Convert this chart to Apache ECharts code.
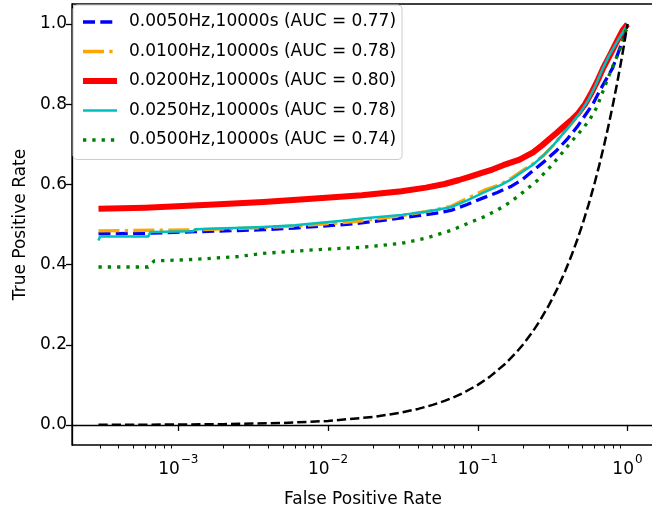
<!DOCTYPE html>
<html>
<head>
<meta charset="utf-8">
<script src="https://cdn.jsdelivr.net/npm/echarts@6/dist/echarts.min.js"></script>
<style>html,body{margin:0;padding:0;background:#fff}#c{width:652px;height:508px}</style>
</head>
<body>
<div id="c"></div>
<script>
const seriesNames = [
  '0.0050Hz,10000s (AUC = 0.77)',
  '0.0100Hz,10000s (AUC = 0.78)',
  '0.0200Hz,10000s (AUC = 0.80)',
  '0.0250Hz,10000s (AUC = 0.78)',
  '0.0500Hz,10000s (AUC = 0.74)'
];
const roc005 = [[0.000293,0.477],[0.0006,0.478],[0.0013,0.482],[0.0025,0.485],[0.0037,0.487],[0.006,0.491],[0.0082,0.495],[0.012,0.499],[0.0168,0.504],[0.025,0.512],[0.04,0.522],[0.055,0.529],[0.066,0.535],[0.085,0.55],[0.11,0.567],[0.135,0.58],[0.165,0.594],[0.2,0.613],[0.235,0.635],[0.28,0.658],[0.339,0.686],[0.4,0.715],[0.46,0.743],[0.52,0.772],[0.586,0.80],[0.653,0.834],[0.72,0.862],[0.795,0.89],[0.87,0.93],[0.93,0.96],[0.985,0.99],[1,1]];
const roc010 = [[0.000293,0.484],[0.0013,0.487],[0.0037,0.492],[0.006,0.496],[0.0082,0.50],[0.012,0.504],[0.0168,0.509],[0.031,0.522],[0.045,0.532],[0.066,0.545],[0.085,0.565],[0.11,0.585],[0.142,0.60],[0.17,0.617],[0.2,0.635],[0.235,0.652],[0.274,0.672],[0.32,0.698],[0.37,0.726],[0.43,0.755],[0.49,0.782],[0.55,0.812],[0.61,0.845],[0.68,0.885],[0.75,0.918],[0.87,0.96],[0.985,0.995],[1,1]];
const roc020 = [[0.000293,0.539],[0.0006,0.542],[0.0016,0.549],[0.0037,0.556],[0.0082,0.565],[0.0168,0.573],[0.031,0.583],[0.045,0.592],[0.06,0.601],[0.075,0.611],[0.09,0.62],[0.105,0.628],[0.125,0.637],[0.148,0.648],[0.19,0.662],[0.234,0.68],[0.27,0.698],[0.305,0.715],[0.34,0.73],[0.372,0.743],[0.42,0.76],[0.47,0.778],[0.52,0.8],[0.57,0.826],[0.63,0.858],[0.688,0.89],[0.77,0.925],[0.853,0.958],[0.93,0.985],[1,1]];
const roc025 = [[0.000293,0.46],[0.0003,0.470],[0.00063,0.470],[0.00065,0.481],[0.00125,0.483],[0.0013,0.488],[0.0037,0.494],[0.006,0.498],[0.0082,0.503],[0.012,0.509],[0.0168,0.515],[0.031,0.524],[0.045,0.532],[0.066,0.543],[0.085,0.56],[0.11,0.58],[0.142,0.598],[0.17,0.614],[0.2,0.632],[0.235,0.65],[0.274,0.672],[0.32,0.698],[0.37,0.726],[0.43,0.755],[0.49,0.782],[0.55,0.812],[0.61,0.846],[0.68,0.887],[0.75,0.92],[0.87,0.962],[0.985,0.995],[1,1]];
const roc050 = [[0.000293,0.394],[0.00063,0.394],[0.00069,0.409],[0.0013,0.413],[0.0025,0.42],[0.0037,0.428],[0.0082,0.437],[0.0168,0.443],[0.031,0.453],[0.045,0.466],[0.066,0.485],[0.085,0.502],[0.11,0.519],[0.135,0.536],[0.165,0.556],[0.2,0.58],[0.25,0.61],[0.3,0.641],[0.354,0.672],[0.42,0.706],[0.503,0.739],[0.56,0.762],[0.623,0.792],[0.69,0.835],[0.76,0.876],[0.82,0.905],[0.885,0.935],[0.94,0.962],[0.985,0.99],[1,1]];
const chance = [[0.000293,0.000293],[0.001,0.001],[0.002,0.002],[0.005,0.005],[0.01,0.01],[0.02,0.02],[0.03,0.03],[0.04,0.04],[0.05,0.05],[0.06,0.06],[0.07,0.07],[0.08,0.08],[0.1,0.1],[0.12,0.12],[0.15,0.15],[0.18,0.18],[0.2,0.2],[0.23,0.23],[0.26,0.26],[0.3,0.3],[0.34,0.34],[0.38,0.38],[0.42,0.42],[0.46,0.46],[0.5,0.5],[0.55,0.55],[0.6,0.6],[0.65,0.65],[0.7,0.7],[0.75,0.75],[0.8,0.8],[0.85,0.85],[0.9,0.9],[0.95,0.95],[1,1]];
const yTicks = [0, 0.2, 0.4, 0.6, 0.8, 1.0];
const xMajor = [0.001, 0.01, 0.1, 1];
const xMinor = [0.0003,0.0004,0.0005,0.0006,0.0007,0.0008,0.0009,0.002,0.003,0.004,0.005,0.006,0.007,0.008,0.009,0.02,0.03,0.04,0.05,0.06,0.07,0.08,0.09,0.2,0.3,0.4,0.5,0.6,0.7,0.8,0.9];
const xExp = {0.001:'−3', 0.01:'−2', 0.1:'−1', 1:'0'};

const FONT = 'DejaVu Sans';
const XMIN = Math.pow(10, -3.71), XMAX = Math.pow(10, 0.177);

const chart = echarts.init(document.getElementById('c'), null, {renderer:'canvas'});
const colors = ['#0000ff','#ffa500','#ff0000','#00bfbf','#008000'];
const widths = [3.3, 3.3, 6, 2.5, 3.3];
const dashes = [[12,5.3],[21,5.3,3.3,5.3],'solid','solid',[3.3,6]];
function mk(name, data, color, width, dash, z) {
  return {name, type:'line', data, symbol:'none', showSymbol:false, animation:false, z,
    lineStyle:{color, width, type:dash, cap:'butt', join:'round'}, itemStyle:{color}};
}
chart.setOption({
  animation:false,
  textStyle:{fontFamily:FONT},
  grid:{left:72, top:4, width:582, height:441, outerBoundsMode:'none', containLabel:false,
    show:true, borderColor:'#000', borderWidth:1.3, backgroundColor:'transparent'},
  legend:{
    left:73, top:5, orient:'vertical', itemWidth:34, itemHeight:14, itemGap:12.5,
    padding:[8.5,6,11,7], backgroundColor:'rgba(255,255,255,0.8)', borderColor:'#cccccc', borderWidth:1, borderRadius:4,
    itemStyle:{opacity:0},
    textStyle:{fontFamily:FONT, fontSize:17, color:'#000', padding:[0,0,0,7]},
    data:seriesNames.map((n,i)=>({name:n, lineStyle:{width:widths[i], color:colors[i], type:dashes[i]}}))
  },
  xAxis:[{
    type:'log', min:XMIN, max:XMAX, logBase:10,
    name:'False Positive Rate', nameLocation:'middle', nameGap:46,
    nameTextStyle:{fontFamily:FONT, fontSize:17, color:'#000'},
    axisLine:{show:true, lineStyle:{color:'#000', width:1.3}},
    axisTick:{show:true, inside:false, length:6, customValues:xMajor, lineStyle:{color:'#000', width:1.3}},
    axisLabel:{show:true, customValues:xMajor, margin:9, fontFamily:FONT, fontSize:17, color:'#000',
      formatter:v=>'{b|10}{s|' + (xExp[+(+v).toPrecision(3)] || '') + '}',
      rich:{
        b:{fontFamily:FONT, fontSize:17, color:'#000', verticalAlign:'bottom', lineHeight:24},
        s:{fontFamily:FONT, fontSize:12, color:'#000', verticalAlign:'top', lineHeight:24, padding:[0,0,8,1]}
      }},
    splitLine:{show:false}, minorTick:{show:false}
  },{
    type:'log', min:XMIN, max:XMAX, logBase:10, position:'bottom',
    axisLine:{show:false}, axisLabel:{show:false}, splitLine:{show:false},
    axisTick:{show:true, inside:false, length:3.5, customValues:xMinor, lineStyle:{color:'#000', width:1}}
  }],
  yAxis:{
    type:'value', min:-0.05, max:1.05,
    name:'True Positive Rate', nameLocation:'middle', nameGap:43, nameRotate:90,
    nameTextStyle:{fontFamily:FONT, fontSize:17, color:'#000'},
    axisLine:{show:true, lineStyle:{color:'#000', width:1.3}},
    axisTick:{show:true, inside:false, length:6, customValues:yTicks, lineStyle:{color:'#000', width:1.3}},
    axisLabel:{show:true, customValues:yTicks, margin:5, fontFamily:FONT, fontSize:17, color:'#000',
      formatter:v=>(+v).toFixed(1)},
    splitLine:{show:false}
  },
  series:[
    mk(seriesNames[0], roc005, colors[0], widths[0], dashes[0], 2),
    mk(seriesNames[1], roc010, colors[1], widths[1], dashes[1], 3),
    mk(seriesNames[2], roc020, colors[2], widths[2], dashes[2], 4),
    mk(seriesNames[3], roc025, colors[3], widths[3], dashes[3], 5),
    mk(seriesNames[4], roc050, colors[4], widths[4], dashes[4], 6),
    mk('chance', chance, '#000000', 2.5, [9.25,4], 7)
  ]
});
</script>
</body>
</html>
